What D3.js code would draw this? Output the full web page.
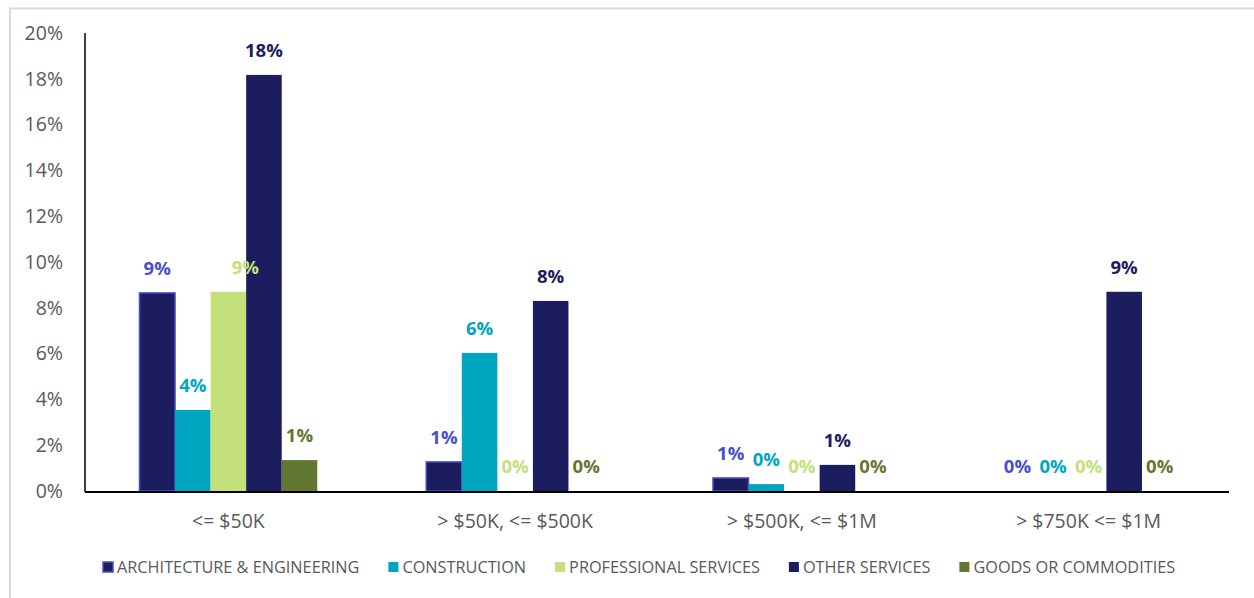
<!DOCTYPE html>
<html>
<head>
<meta charset="utf-8">
<script src="https://cdn.jsdelivr.net/npm/d3@7"></script>
<style>
  html, body { margin: 0; padding: 0; background: #fff; }
  svg { display: block; }
</style>
</head>
<body>
<svg id="chart" width="1254" height="598"></svg>
<script>
// Contract value bands
const categories = ["<= $50K", "> $50K, <= $500K", "> $500K, <= $1M", "> $750K <= $1M"];

// Share of awards by industry (fraction of total)
const seriesNames = ["ARCHITECTURE & ENGINEERING", "CONSTRUCTION", "PROFESSIONAL SERVICES", "OTHER SERVICES", "GOODS OR COMMODITIES"];
const architecture = [0.0865, 0.0127, 0.0057, 0];
const construction = [0.0354, 0.0603, 0.0030, 0];
const professional = [0.0870, 0, 0, 0];
const otherServices = [0.1817, 0.0830, 0.0114, 0.0870];
const goods = [0.0135, 0, 0, 0];

const yTicks = [0, 0.02, 0.04, 0.06, 0.08, 0.10, 0.12, 0.14, 0.16, 0.18, 0.20];

const fills = ["#1b1d5f", "#00a6bf", "#c3e07a", "#1b1d5f", "#627732"];
const labelColors = ["#4a4fcf", "#00a6bf", "#c3e07a", "#1b1d5f", "#627732"];

const seriesValues = [architecture, construction, professional, otherServices, goods];

const svg = d3.select("#chart");
const W = 1254, H = 598;
const font = "'Open Sans', 'Liberation Sans', sans-serif";

// Outer frame
svg.append("rect")
  .attr("x", 10).attr("y", 8.5)
  .attr("width", W + 10).attr("height", H + 10)
  .attr("fill", "none").attr("stroke", "#d9d9d9").attr("stroke-width", 2);

const margin = { left: 85, right: 22, top: 33, bottom: 107 };
const plotW = W - margin.left - margin.right;
const plotH = H - margin.top - margin.bottom;

const g = svg.append("g").attr("transform", `translate(${margin.left},${margin.top})`);

const x0 = d3.scaleBand().domain(categories).range([0, plotW]).paddingInner(0.38).paddingOuter(0.19);
const x1 = d3.scaleBand().domain(d3.range(seriesNames.length)).range([0, x0.bandwidth()]);
const y = d3.scaleLinear().domain([0, 0.20]).range([plotH, 0]);

const pct = d3.format(".0%");

// Y axis tick labels
const yAxis = g.append("g")
  .call(d3.axisLeft(y).tickValues(yTicks).tickFormat(pct).tickSize(0).tickPadding(22));
yAxis.select(".domain").remove();
yAxis.selectAll("text")
  .attr("fill", "#595959")
  .style("font-family", font)
  .style("font-size", "19.5px");

// Bars
const groups = g.selectAll(".group")
  .data(categories)
  .join("g")
  .attr("class", "group")
  .attr("transform", d => `translate(${x0(d)},0)`);

seriesNames.forEach((name, si) => {
  groups.append("rect")
    .attr("x", (d, ci) => x1(si))
    .attr("width", x1.bandwidth())
    .attr("y", (d, ci) => y(seriesValues[si][ci]))
    .attr("height", (d, ci) => plotH - y(seriesValues[si][ci]))
    .attr("fill", fills[si])
    .attr("stroke", si === 0 ? "#4a4fcf" : "none")
    .attr("stroke-width", si === 0 ? 1.5 : 0)
    .style("display", (d, ci) => seriesValues[si][ci] > 0 ? null : "none");
});

// Value labels
seriesNames.forEach((name, si) => {
  groups.append("text")
    .attr("x", (d, ci) => {
      let cx = x1(si) + x1.bandwidth() / 2;
      // light-green label in the first band is nudged right so it clears the tall neighbour
      if (si === 2 && ci === 0) cx += 17;
      return cx;
    })
    .attr("y", (d, ci) => y(seriesValues[si][ci]) - 18)
    .attr("text-anchor", "middle")
    .attr("fill", labelColors[si])
    .style("font-family", font)
    .style("font-weight", "bold")
    .style("font-size", "18.5px")
    .text((d, ci) => pct(seriesValues[si][ci]));
});

// X axis line
g.append("line")
  .attr("x1", 0).attr("x2", plotW - 3)
  .attr("y1", plotH + 1).attr("y2", plotH + 1)
  .attr("stroke", "#000").attr("stroke-width", 2);

// Y axis line
g.append("line")
  .attr("x1", 0).attr("x2", 0)
  .attr("y1", 0).attr("y2", plotH + 1)
  .attr("stroke", "#000").attr("stroke-width", 1.5);

// Category labels
g.selectAll(".cat")
  .data(categories)
  .join("text")
  .attr("x", d => x0(d) + x0.bandwidth() / 2)
  .attr("y", plotH + 37)
  .attr("text-anchor", "middle")
  .attr("fill", "#595959")
  .style("font-family", font)
  .style("font-size", "19.5px")
  .text(d => d);

// Legend
const legend = svg.append("g").attr("transform", "translate(0,567)");
let lx = 103;
seriesNames.forEach((name, si) => {
  const item = legend.append("g").attr("transform", `translate(${lx},0)`);
  item.append("rect")
    .attr("x", 0).attr("y", -5).attr("width", 10).attr("height", 10)
    .attr("fill", fills[si])
    .attr("stroke", si === 0 ? "#4a4fcf" : "none")
    .attr("stroke-width", si === 0 ? 1.5 : 0);
  const t = item.append("text")
    .attr("x", 14).attr("y", 6)
    .attr("fill", "#595959")
    .style("font-family", font)
    .style("font-size", "16.3px")
    .text(name);
  lx += 14 + t.node().getComputedTextLength() + 29;
});
</script>
</body>
</html>
